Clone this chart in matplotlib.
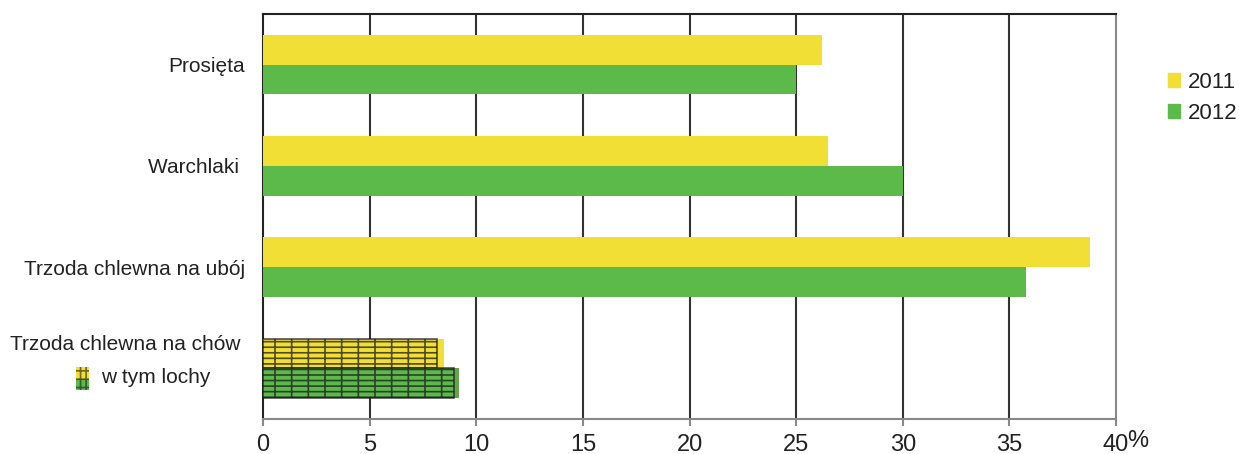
import matplotlib
matplotlib.use("Agg")
import matplotlib.pyplot as plt
from matplotlib.patches import Rectangle
from matplotlib.transforms import blended_transform_factory
import numpy as np

plt.rcParams['font.family'] = ['Liberation Sans', 'DejaVu Sans']
plt.rcParams['hatch.linewidth'] = 1.2

# data
categories = ["Prosięta", "Warchlaki ", "Trzoda chlewna na ubój", "Trzoda chlewna na chów"]
sub_label = "w tym lochy"
vals_2011 = [26.2, 26.5, 38.8, 8.5]
vals_2012 = [25.0, 30.0, 35.8, 9.2]
lochy_2011 = 8.15
lochy_2012 = 8.95
xticks = [0, 5, 10, 15, 20, 25, 30, 35, 40]

yellow = "#f2df36"
green = "#5cba4b"
green_dark = "#66a44b"
fs = 15
txt = "#222222"

fig = plt.figure(figsize=(12.39, 4.54), dpi=100)
ax = fig.add_axes([0.2123, 0.0771, 0.6884, 0.8921])

y = np.arange(len(categories))
h = 0.295

colors12 = [green, green, green, green_dark]
ax.barh(y - h / 2, vals_2011, height=h, color=yellow, zorder=3)
ax.barh(y + h / 2, vals_2012, height=h, color=colors12, zorder=3)

# "w tym lochy" hatched bars
ax.barh(y[3] - h / 2, lochy_2011, height=h, color=yellow, edgecolor=(0.1, 0.1, 0.1, 0.75),
        hatch="|---", linewidth=1.2, zorder=4)
ax.barh(y[3] + h / 2, lochy_2012, height=h, color=green, edgecolor=(0.1, 0.1, 0.1, 0.75),
        hatch="|---", linewidth=1.2, zorder=4)

ax.set_xlim(0, 40)
ax.set_ylim(3.5, -0.5)
ax.set_xticks(xticks)
ax.set_xticklabels([str(t) for t in xticks], fontsize=17, color=txt)
ax.set_yticks(y[:3])
ax.set_yticklabels(categories[:3], fontsize=fs, color=txt)
ax.tick_params(axis="y", length=0, pad=13)
ax.tick_params(axis="x", length=5, width=1.5, color="#888888", pad=6)
ax.text(1.0125, -0.027, "%", transform=ax.transAxes, fontsize=17, color=txt,
        ha="left", va="top")

# last category label on two lines, with a small icon
tr = blended_transform_factory(ax.transAxes, ax.transData)
ax.text(-0.0263, y[3] - 0.235, categories[3], transform=tr, fontsize=fs, color=txt,
        ha="right", va="center")
ax.text(-0.0621, y[3] + 0.09, sub_label, transform=tr, fontsize=fs, color=txt,
        ha="right", va="center")
fig.patches.append(Rectangle((76 / 1239, 1 - 379 / 454), 13 / 1239, 12 / 454, transform=fig.transFigure,
                             facecolor=yellow, edgecolor=(0.1, 0.1, 0.1, 0.6), hatch="|||--", linewidth=0))
fig.patches.append(Rectangle((76 / 1239, 1 - 390 / 454), 13 / 1239, 11 / 454, transform=fig.transFigure,
                             facecolor=green, edgecolor=(0.1, 0.1, 0.1, 0.6), hatch="|||--", linewidth=0))

for t in xticks[1:-1]:
    ax.axvline(t, color="#333333", linewidth=1.5, zorder=1)

ax.spines["left"].set_color("#222222")
ax.spines["top"].set_color("#222222")
ax.spines["right"].set_color("#888888")
ax.spines["bottom"].set_color("#888888")
for s in ax.spines.values():
    s.set_linewidth(1.5)

# legend
handles = [Rectangle((0, 0), 1, 1, color=yellow), Rectangle((0, 0), 1, 1, color=green)]
fig.legend(handles, ["2011", "2012"], loc="upper left", bbox_to_anchor=(1168 / 1239, 1 - 72 / 454),
           frameon=False, fontsize=16, handlelength=0.55, handleheight=0.55, handletextpad=0.35,
           labelspacing=0.45, borderpad=0, borderaxespad=0, labelcolor=txt)

fig.savefig("out.png", dpi=100)
